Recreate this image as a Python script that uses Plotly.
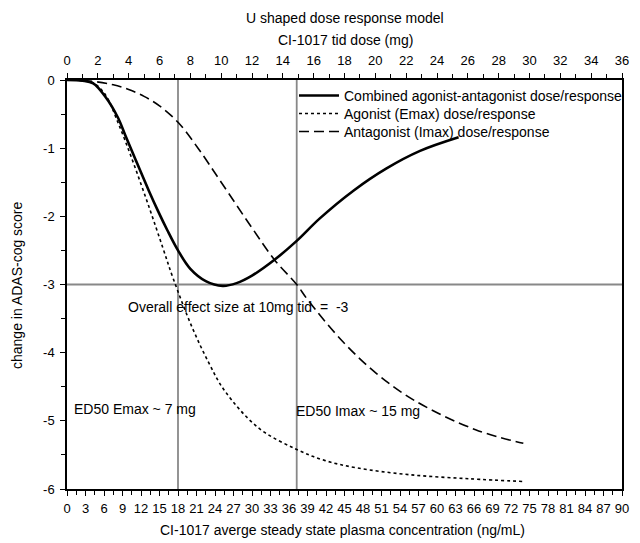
import plotly.graph_objects as go

# values (x = tid dose in mg, y = change in ADAS-cog)
combined_dose = [0, 1.0, 1.7, 2.5, 3.3, 3.8, 4.45, 5.3, 5.9, 6.5, 7.2, 8.0, 9.0, 10.1, 11.0, 12.0, 13.5, 14.9, 16.4, 18.6, 20.7, 22.9, 25.4]
combined_resp = [0, -0.01, -0.05, -0.25, -0.55, -0.82, -1.17, -1.62, -1.92, -2.2, -2.5, -2.77, -2.95, -3.02, -2.98, -2.87, -2.63, -2.36, -2.03, -1.62, -1.30, -1.04, -0.84]

agonist_dose = [0, 1.0, 1.7, 2.5, 3.3, 4.2, 5.3, 6.2, 6.9, 8.1, 9.2, 10.2, 12.4, 14.9, 16.7, 18.8, 22.2, 26.1, 29.6]
agonist_resp = [0, -0.01, -0.04, -0.22, -0.62, -1.15, -1.85, -2.45, -2.92, -3.62, -4.15, -4.55, -5.10, -5.42, -5.58, -5.69, -5.79, -5.85, -5.89]

antagonist_dose = [0, 1.7, 3.0, 4.0, 5.0, 6.0, 7.2, 8.5, 10.0, 12.0, 13.5, 14.9, 15.6, 17.9, 20.1, 22.6, 26.5, 29.6]
antagonist_resp = [0, -0.02, -0.07, -0.14, -0.24, -0.38, -0.62, -1.0, -1.5, -2.17, -2.65, -3.0, -3.22, -3.84, -4.31, -4.71, -5.13, -5.33]

conc_range = [0, 90]       # ng/mL, bottom axis
dose_range = [0, 36]       # mg, top axis
ed50_lines = [7.2, 14.9]   # dose (mg)
effect_line = -3

dose_ticks = list(range(0, 37, 2))
conc_ticks = list(range(0, 91, 3))
y_ticks = [0, -1, -2, -3, -4, -5, -6]

FONT = "Liberation Sans, Arial, sans-serif"
TXT = dict(size=14, color="black")
TICK = dict(size=13, color="black")

fig = go.Figure()

# empty trace so the concentration axis is drawn
fig.add_trace(go.Scatter(x=conc_range, y=[None, None], xaxis="x", mode="lines",
                         showlegend=False, hoverinfo="skip"))

# one legend per series so the rows can sit as tightly as in the reference
fig.add_trace(go.Scatter(
    x=combined_dose, y=combined_resp, xaxis="x2", mode="lines", legend="legend",
    line=dict(color="black", width=2.6, shape="spline", smoothing=1.0),
    name="Combined agonist-antagonist dose/response"))
fig.add_trace(go.Scatter(
    x=agonist_dose, y=agonist_resp, xaxis="x2", mode="lines", legend="legend2",
    line=dict(color="black", width=1.6, dash="dot", shape="spline", smoothing=1.0),
    name="Agonist (Emax) dose/response"))
fig.add_trace(go.Scatter(
    x=antagonist_dose, y=antagonist_resp, xaxis="x2", mode="lines", legend="legend3",
    line=dict(color="black", width=1.6, dash="10px,5px", shape="spline", smoothing=1.0),
    name="Antagonist (Imax) dose/response"))

# grey reference lines
for d in ed50_lines:
    fig.add_shape(type="line", xref="x2", yref="y", x0=d, x1=d, y0=-6, y1=0,
                  line=dict(color="#888888", width=1.8), layer="below")
fig.add_shape(type="line", xref="paper", yref="y", x0=0, x1=1, y0=effect_line, y1=effect_line,
              line=dict(color="#888888", width=1.8), layer="below")

fig.add_annotation(x=3.85, y=-3.33, xref="x2", yref="y", text="Overall effect size at 10mg tid  =  -3",
                   showarrow=False, xanchor="left", font=TXT)
fig.add_annotation(x=0.3, y=-4.82, xref="x2", yref="y", text="ED50 Emax ~ 7 mg",
                   showarrow=False, xanchor="left", font=TXT)
fig.add_annotation(x=14.7, y=-4.85, xref="x2", yref="y", text="ED50 Imax ~ 15 mg",
                   showarrow=False, xanchor="left", font=TXT)

# titles placed as annotations so they sit where the reference has them
fig.add_annotation(x=0.501, y=1.152, xref="paper", yref="paper", text="U shaped dose response model",
                   showarrow=False, yanchor="middle", font=TXT)
fig.add_annotation(x=0.501, y=1.098, xref="paper", yref="paper", text="CI-1017 tid dose (mg)",
                   showarrow=False, yanchor="middle", font=TXT)
fig.add_annotation(x=0.497, y=-0.1, xref="paper", yref="paper",
                   text="CI-1017 averge steady state plasma concentration (ng/mL)",
                   showarrow=False, yanchor="middle", font=TXT)
fig.add_annotation(x=-0.091, y=0.5, xref="paper", yref="paper", text="change in ADAS-cog score",
                   showarrow=False, textangle=-90, xanchor="center", yanchor="middle", font=TXT)

legend_style = dict(x=0.409, xanchor="left", yanchor="middle", bgcolor="rgba(0,0,0,0)",
                    font=TXT, itemwidth=40, tracegroupgap=0)

# page body has an 8px margin, so the figure is 8px smaller than the window
fig.update_layout(
    width=632, height=535,
    margin=dict(l=59, r=12, t=72, b=54),
    plot_bgcolor="white", paper_bgcolor="white",
    font=dict(family=FONT, size=12, color="black"),
    showlegend=True,
    legend=dict(y=0.961, **legend_style),
    legend2=dict(y=0.917, **legend_style),
    legend3=dict(y=0.873, **legend_style),
    xaxis=dict(range=conc_range, tickmode="array", tickvals=conc_ticks, ticks="outside",
               ticklen=5, tickcolor="black", showline=True, linecolor="black", linewidth=1.5,
               showgrid=False, zeroline=False, automargin=False, ticklabelstandoff=2,
               minor=dict(tickmode="linear", tick0=0, dtick=1.5, ticks="outside", ticklen=4, tickcolor="black"),
               tickfont=TICK),
    xaxis2=dict(range=dose_range, overlaying="x", side="top", anchor="y", tickmode="array",
                tickvals=dose_ticks, ticks="outside", ticklen=5, tickcolor="black",
                showline=True, linecolor="black", linewidth=1.5, showgrid=False, zeroline=False,
                automargin=False, ticklabelstandoff=3,
                minor=dict(tickmode="linear", tick0=0, dtick=1, ticks="outside", ticklen=4, tickcolor="black"),
                tickfont=TICK),
    yaxis=dict(range=[-6, 0], tickmode="array", tickvals=y_ticks, ticktext=[str(v) for v in y_ticks],
               ticks="outside", ticklen=5, tickcolor="black", showline=True, linecolor="black",
               linewidth=1.5, mirror=True, showgrid=False, zeroline=False, automargin=False,
               ticklabelstandoff=3,
               minor=dict(tickmode="linear", tick0=0, dtick=0.5, ticks="outside", ticklen=4, tickcolor="black"),
               tickfont=TICK),
)

fig.write_html("out.html")
